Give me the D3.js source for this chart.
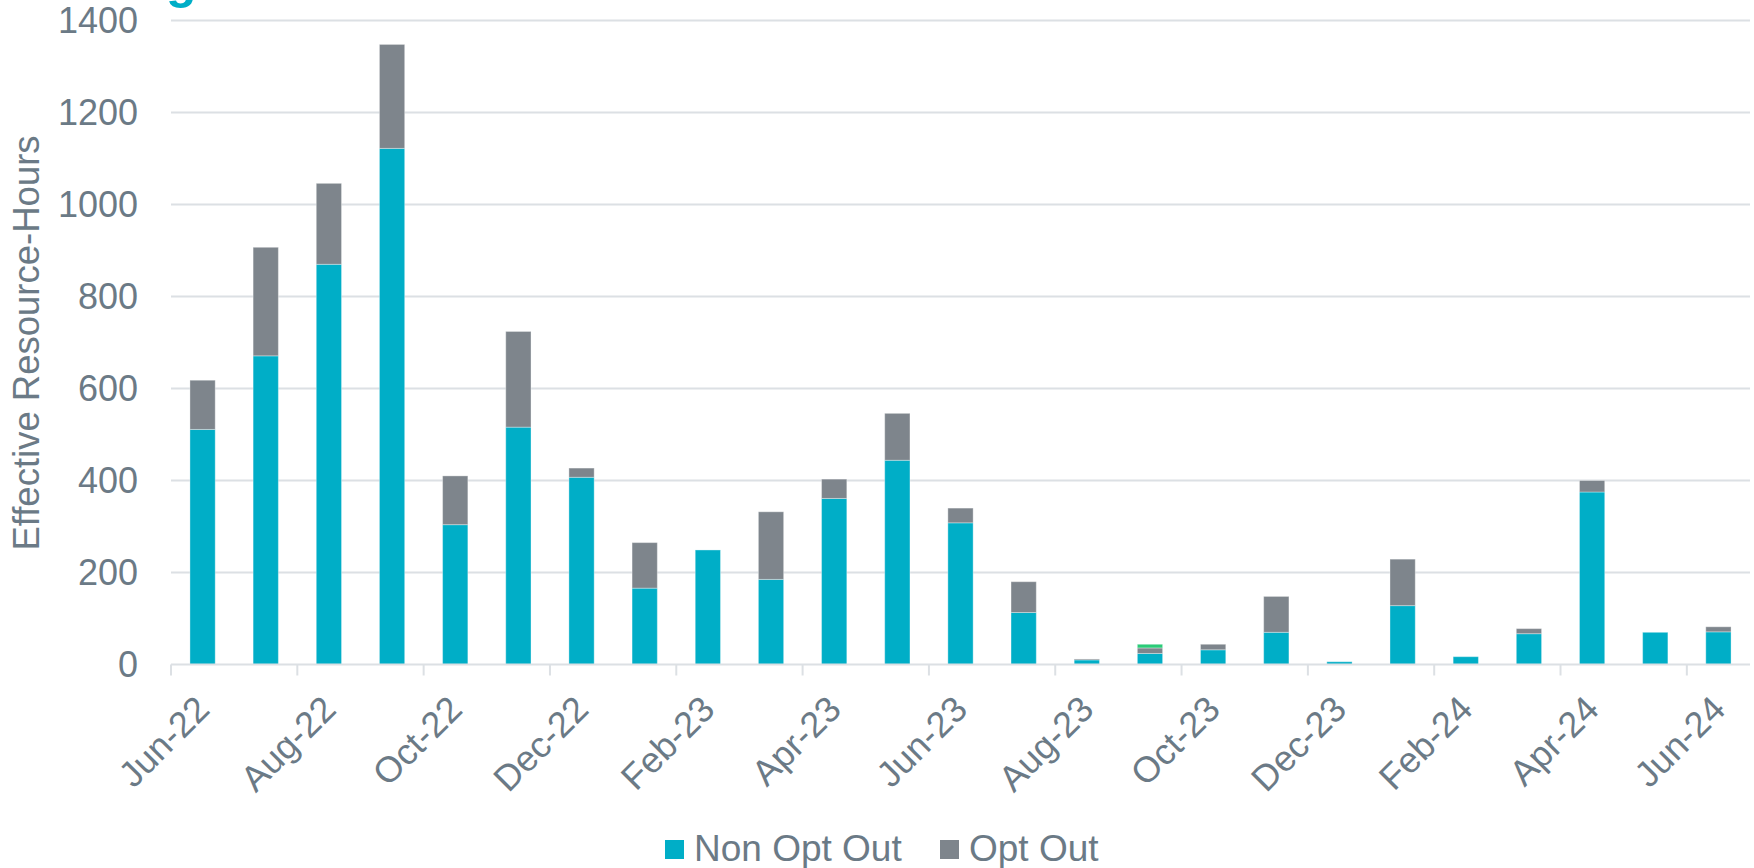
<!DOCTYPE html>
<html>
<head>
<meta charset="utf-8">
<script src="https://cdn.jsdelivr.net/npm/d3@7/dist/d3.min.js"></script>
<style>
  html, body { margin: 0; padding: 0; background: #ffffff; }
  svg { display: block; }
  text { font-family: "Liberation Sans", Arial, Helvetica, sans-serif; }
</style>
</head>
<body>
<svg id="chart" width="1754" height="868"></svg>
<script>
const months = ["Jun-22","Jul-22","Aug-22","Sep-22","Oct-22","Nov-22","Dec-22",
  "Jan-23","Feb-23","Mar-23","Apr-23","May-23","Jun-23","Jul-23","Aug-23","Sep-23",
  "Oct-23","Nov-23","Dec-23","Jan-24","Feb-24","Mar-24","Apr-24","May-24","Jun-24"];
const nonOptOut = [511, 671, 870, 1122, 304, 516, 407, 166, 249, 185, 361, 444, 308,
  113, 10, 24, 32, 70, 6, 128, 17, 67, 375, 70, 71];
const optOut = [107, 236, 176, 226, 106, 208, 20, 99, 0, 147, 42, 102, 32,
  67, 2, 12, 12, 78, 0, 101, 0, 11, 25, 0, 11];
const other = [0, 0, 0, 0, 0, 0, 0, 0, 0, 0, 0, 0, 0,
  0, 0, 8, 0, 0, 0, 0, 0, 0, 0, 0, 0];
const yTicks = [0, 200, 400, 600, 800, 1000, 1200, 1400];
const xTickLabels = ["Jun-22","Aug-22","Oct-22","Dec-22","Feb-23","Apr-23","Jun-23",
  "Aug-23","Oct-23","Dec-23","Feb-24","Apr-24","Jun-24"];
const seriesNames = ["Non Opt Out", "Opt Out", "Other"];
const legendNames = ["Non Opt Out", "Opt Out"];

(function () {
const colors = { "Non Opt Out": "#00AEC7", "Opt Out": "#7E858C", "Other": "#2BCB78" };
const textColor = "#6B7A86";
const gridColor = "#DCE0E4";

const svg = d3.select("#chart");
const mLeft = 171, mRight = 1750, mTop = 20.5, mBottom = 664.5;

const x = d3.scaleBand().domain(months).range([mLeft, mRight]).paddingInner(0.6).paddingOuter(0.3);
const y = d3.scaleLinear().domain([0, 1400]).range([mBottom, mTop]);

const rows = months.map((m, i) => ({ month: m, "Non Opt Out": nonOptOut[i], "Opt Out": optOut[i], "Other": other[i] }));
const stacked = d3.stack().keys(seriesNames)(rows);

// title remnant (cut off at top of the picture)
svg.append("text").attr("x", 166).attr("y", -2)
  .attr("font-size", 50).attr("font-weight", "bold").attr("fill", "#00AEC7").text("g");

// gridlines
svg.append("g").selectAll("line").data(yTicks.filter(d => d > 0)).join("line")
  .attr("x1", mLeft).attr("x2", mRight)
  .attr("y1", d => y(d)).attr("y2", d => y(d))
  .attr("stroke", gridColor).attr("stroke-width", 2);

// y axis labels
const yAxis = d3.axisLeft(y).tickValues(yTicks).tickFormat(d3.format("d")).tickSize(0).tickPadding(33);
const gy = svg.append("g").attr("transform", `translate(${mLeft},0)`).call(yAxis);
gy.select(".domain").remove();
gy.selectAll("text").attr("font-size", 36).attr("fill", textColor)
  .attr("font-family", "'Liberation Sans', Arial, sans-serif");

// bars
svg.append("g").selectAll("g").data(stacked).join("g")
  .attr("fill", d => colors[d.key])
  .selectAll("rect").data(d => d.filter(s => s[1] - s[0] > 0)).join("rect")
  .attr("x", d => x(d.data.month))
  .attr("width", x.bandwidth())
  .attr("y", d => y(d[1]))
  .attr("height", d => y(d[0]) - y(d[1]))
  .attr("stroke", "#ffffff").attr("stroke-opacity", 0.35).attr("stroke-width", 1);

// x axis line and ticks
const step = x.step();
const xAxisG = svg.append("g");
xAxisG.append("line").attr("x1", mLeft).attr("x2", mRight).attr("y1", mBottom).attr("y2", mBottom)
  .attr("stroke", gridColor).attr("stroke-width", 2);
xAxisG.selectAll("line.tick").data(xTickLabels).join("line").attr("class", "tick")
  .attr("x1", d => x(d) - x.paddingOuter() * step).attr("x2", d => x(d) - x.paddingOuter() * step)
  .attr("y1", mBottom).attr("y2", mBottom + 11)
  .attr("stroke", gridColor).attr("stroke-width", 2);
xAxisG.selectAll("text").data(xTickLabels).join("text")
  .attr("transform", d => `translate(${x(d) + x.bandwidth() / 2},${mBottom + 38}) rotate(-45)`)
  .attr("text-anchor", "end").attr("dy", "0.35em")
  .attr("font-size", 36).attr("fill", textColor).text(d => d);

// y axis title
svg.append("text")
  .attr("transform", `translate(26,343) rotate(-90)`)
  .attr("text-anchor", "middle").attr("dy", "0.35em")
  .attr("font-size", 36.5).attr("fill", textColor).text("Effective Resource-Hours");

// legend
const legend = svg.append("g");
const legendX = [665, 940];
legendNames.forEach((name, i) => {
  legend.append("rect").attr("x", legendX[i]).attr("y", 840).attr("width", 19).attr("height", 19)
    .attr("fill", colors[name]);
  legend.append("text").attr("x", legendX[i] + 29).attr("y", 861)
    .attr("font-size", 37).attr("fill", textColor).text(name);
});
})();
</script>
</body>
</html>
